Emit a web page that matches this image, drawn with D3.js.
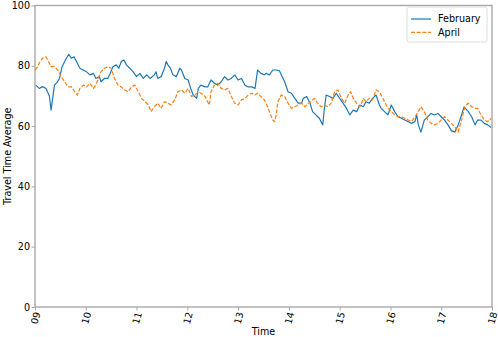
<!DOCTYPE html>
<html>
<head>
<meta charset="utf-8">
<script src="https://cdn.jsdelivr.net/npm/d3@7"></script>
<style>
  body { margin: 0; background: #fff; }
  svg text { font-family: "DejaVu Sans", sans-serif; font-size: 9.6px; fill: #000; }
  .axis path, .axis line { stroke: #a8a8a8; }
</style>
</head>
<body>
<div id="chart"></div>
<script>
// Minutes after 09:00 and averaged travel time
const febMinutes = [1,5,9,13,17,19,23,26,29,32,37,40,43,46,49,53,57,61,65,69,72,76,78,82,86,89,92,96,99,102,105,108,112,116,120,124,128,132,136,141,143,145,149,153,155,157,160,163,167,171,173,177,181,184,187,191,193,196,201,204,208,212,216,220,224,228,232,236,240,244,248,252,256,260,263,267,271,273,277,281,285,289,291,295,299,303,307,311,315,317,321,325,328,332,336,340,342,344,348,352,356,360,364,368,372,376,380,384,388,391,395,399,403,407,409,413,417,421,425,429,433,437,441,445,449,451,453,456,460,464,468,472,476,480,484,488,492,496,500,504,507,512,516,520,523,527,531,535,539];
const febValues = [73.6,72.5,73.1,72.5,70,65.3,73.6,74.5,75.8,79.7,82.5,83.8,82.5,83,81.4,79.2,78.6,78,77,77.5,75.8,76.4,74.7,75.8,75.8,77.5,79.7,80.3,79.2,81.4,81.9,80.3,79.2,78,76.4,77.5,75.8,77,75.8,77,78,75.8,76.4,79.2,81.4,80.3,79.2,77,76.4,79.2,78.6,75.8,75.3,72.5,70.3,69.2,72.5,73.6,73,73,75.3,74.2,73.6,74.7,76.4,75.3,75.8,77,75.3,75.8,73.6,73,73,72.5,78.6,77.5,77,77.5,77,78.6,78.6,78.3,77,74.7,71.4,70.9,69.2,67.6,67.6,69.2,69.8,67.6,64.8,63.7,62.6,60.4,65.9,70.3,69.8,69.2,70.9,69.2,67.6,65.9,63.7,65.3,64.8,67,66.4,68.1,67.6,69.2,70.3,67,65.9,64.8,63.7,67,64.8,63.1,62.6,62,61.5,60.9,61.5,63.7,60.4,58,62,63.1,64.2,63.7,64.2,63.1,62,60.4,58.5,58,60.4,63.7,66.4,64.8,63.1,60.4,62,62,60.9,60.4,59.5];

const aprMinutes = [0,2,6,9,13,15,19,23,27,31,35,39,43,47,50,53,57,61,65,69,72,75,78,82,86,90,94,98,102,106,110,114,118,122,126,130,134,137,141,145,149,153,157,161,165,169,173,177,181,185,189,193,196,201,204,206,208,212,216,220,224,228,232,236,240,244,248,252,256,260,263,267,271,273,277,281,283,285,287,291,295,299,303,307,311,315,319,323,326,330,334,338,342,346,350,354,358,362,366,370,373,376,380,384,388,391,395,399,403,407,409,413,417,421,425,429,433,437,441,445,449,453,456,460,464,468,472,476,480,484,488,492,496,500,504,508,512,516,520,523,527,531,535,539];
const aprValues = [78.6,79.2,81.4,82.5,83,81.9,79.7,79.7,78.6,76.4,74.7,73,73,71.4,70.3,72.5,73.6,73,74.2,72.5,73.6,76,78,79.2,79.7,79.2,75.8,73.6,73,72,71.4,73,73.6,71.4,69.2,68.1,67,64.8,66.4,67.6,65.9,68.1,67.6,67,68.7,71.4,72,70.9,72.5,69.8,70.3,71.4,70.9,69.8,68.1,67,71.4,73.6,74.2,72.5,72,72.5,69.8,67.6,67,68.7,69.2,70.3,70.9,70.3,70.9,69.8,68.7,67.6,64.8,62,61.5,63.7,68.1,70.3,69.8,67.6,65.9,66.4,67,67.6,66.4,67.6,68.1,69.2,67.6,66.4,67,66.4,67.6,71.4,72,69.2,67.6,70.3,71.4,69.2,67.6,66.4,69.2,68.1,69.2,68.7,72,71.4,70.3,68.1,65.9,64.8,63.7,63.1,63.1,62.6,62,61.5,63.1,64.8,66.4,64.8,62,60.9,60.4,60.9,62,63.1,62,60.9,59.8,58,62,66.4,67.6,66.4,65.9,65.9,63.7,62,61.5,62.6];

const seriesNames = ['February', 'April'];
const seriesColors = ['#1f77b4', '#ff7f0e'];
const hourTicks = [9, 10, 11, 12, 13, 14, 15, 16, 17, 18];
const yTicks = [0, 20, 40, 60, 80, 100];

const W = 498, H = 337;
const margin = { top: 5.5, right: 6, bottom: 30, left: 35 };
const innerW = W - margin.left - margin.right;
const innerH = H - margin.top - margin.bottom;

const svg = d3.select('#chart').append('svg')
  .attr('width', W)
  .attr('height', H);

const g = svg.append('g')
  .attr('transform', `translate(${margin.left},${margin.top})`);

const x = d3.scaleLinear().domain([0, 540]).range([0, innerW]);
const y = d3.scaleLinear().domain([0, 100]).range([innerH, 0]);

// Axes
const xAxis = g.append('g')
  .attr('class', 'axis')
  .attr('transform', `translate(0,${innerH})`)
  .call(d3.axisBottom(x)
    .tickValues(hourTicks.map(h => (h - 9) * 60))
    .tickFormat(m => d3.format('02d')(9 + m / 60))
    .tickSizeOuter(0)
    .tickSize(3.5));
xAxis.select('.domain').remove();
xAxis.selectAll('text')
  .attr('y', 0)
  .attr('dy', 0)
  .attr('text-anchor', 'middle')
  .attr('dominant-baseline', 'central')
  .attr('transform', 'translate(0,11) rotate(-75)');

const yAxis = g.append('g')
  .attr('class', 'axis')
  .call(d3.axisLeft(y).tickValues(yTicks).tickSizeOuter(0).tickSize(3.5));
yAxis.select('.domain').remove();
yAxis.selectAll('text').attr('x', -5);

// Frame
g.append('rect')
  .attr('width', innerW)
  .attr('height', innerH)
  .attr('fill', 'none')
  .attr('stroke', '#a8a8a8')
  .attr('stroke-width', 1.4);

// Lines
const line = d3.line()
  .x(d => x(d[0]))
  .y(d => y(d[1]));

const series = [
  d3.zip(febMinutes, febValues),
  d3.zip(aprMinutes, aprValues)
];

series.forEach((data, i) => {
  g.append('path')
    .datum(data)
    .attr('fill', 'none')
    .attr('stroke', seriesColors[i])
    .attr('stroke-width', 1.2)
    .attr('stroke-linejoin', 'round')
    .attr('stroke-dasharray', i === 1 ? '4,1.7' : null)
    .attr('d', line);
});

// Axis labels
svg.append('text')
  .attr('x', margin.left + innerW / 2)
  .attr('y', 335)
  .attr('text-anchor', 'middle')
  .text('Time');

svg.append('text')
  .attr('transform', `translate(11,${margin.top + innerH / 2}) rotate(-90)`)
  .attr('text-anchor', 'middle')
  .text('Travel Time Average');

// Legend
const legend = svg.append('g').attr('transform', 'translate(407,7)');
legend.append('rect')
  .attr('width', 80)
  .attr('height', 35)
  .attr('rx', 2.5)
  .attr('fill', '#fff')
  .attr('fill-opacity', 0.8)
  .attr('stroke', '#dcdcdc');

seriesNames.forEach((name, i) => {
  const row = legend.append('g').attr('transform', `translate(0,${12 + i * 13.3})`);
  row.append('line')
    .attr('x1', 4).attr('x2', 24)
    .attr('stroke', seriesColors[i])
    .attr('stroke-width', 1.2)
    .attr('stroke-dasharray', i === 1 ? '4,1.7' : null);
  row.append('text')
    .attr('x', 31)
    .attr('dy', '0.35em')
    .text(name);
});
</script>
</body>
</html>
